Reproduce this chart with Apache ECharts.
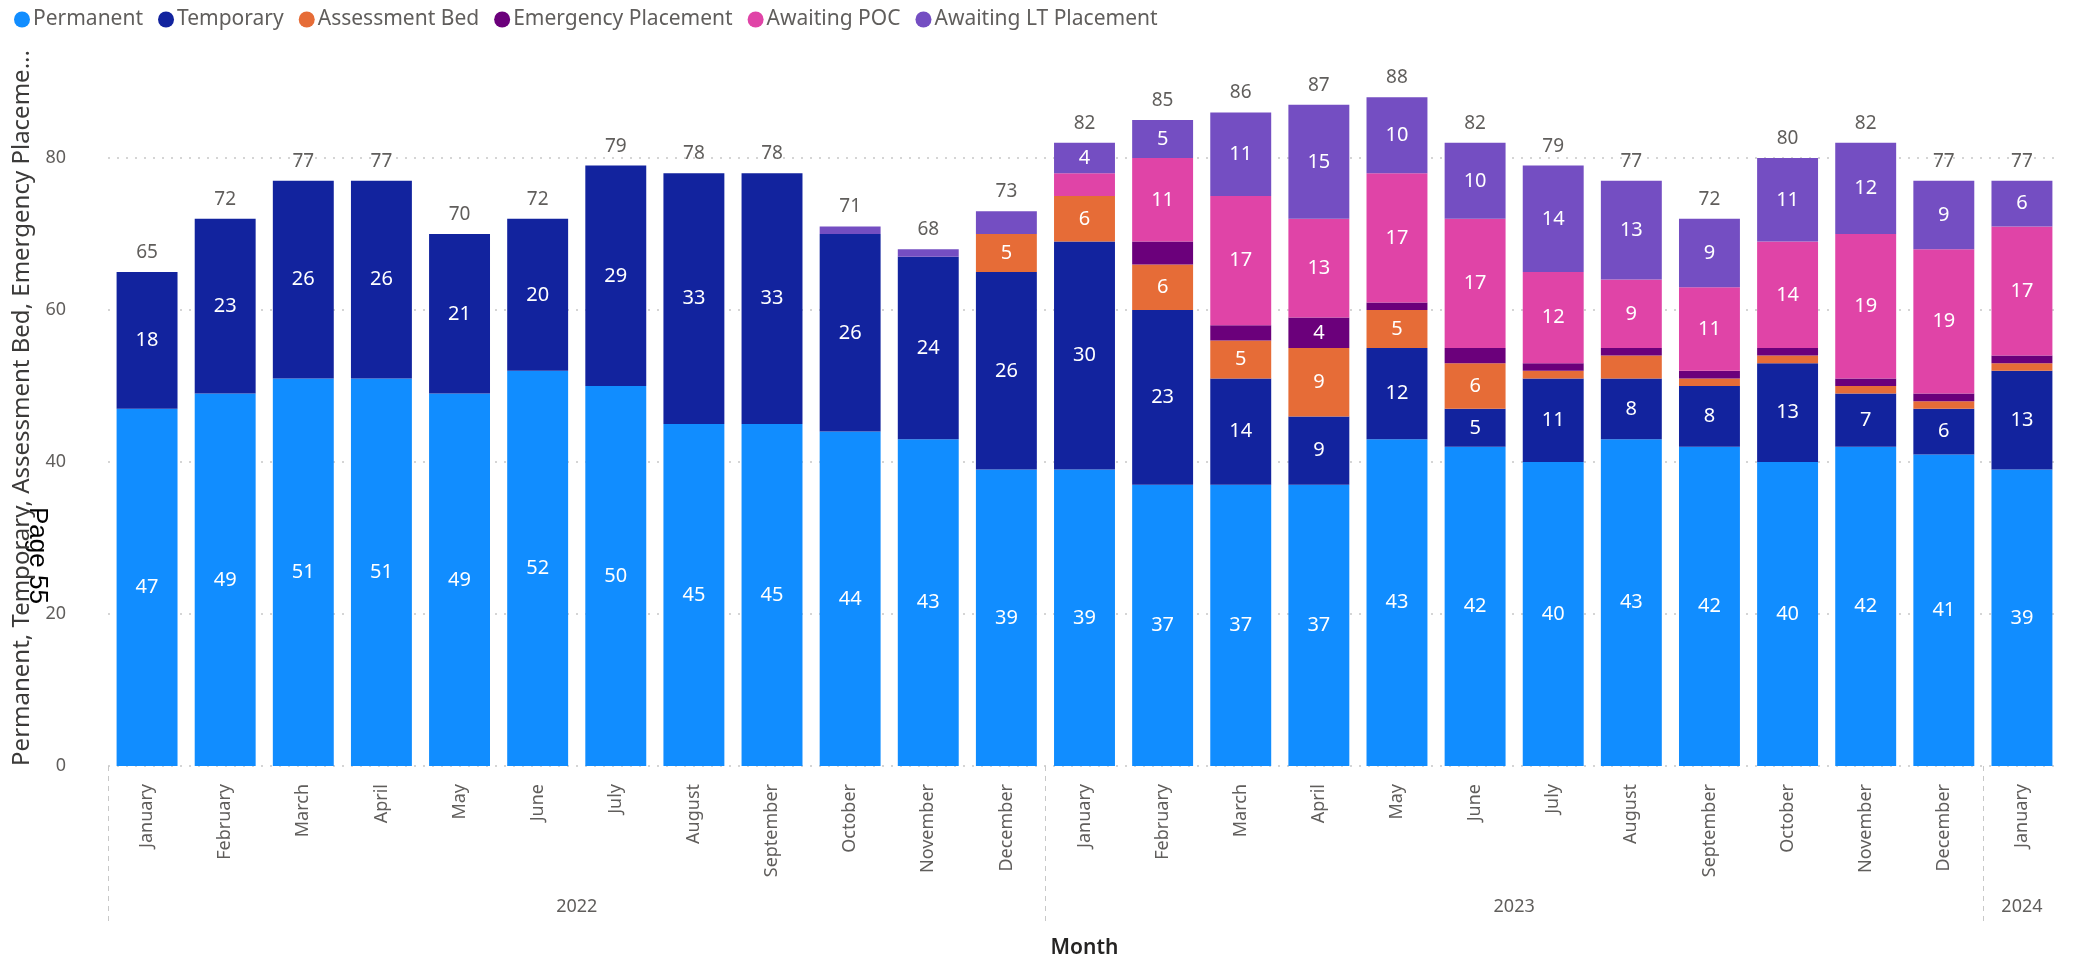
<!DOCTYPE html>
<html>
<head>
<meta charset="utf-8">
<script src="https://cdn.jsdelivr.net/npm/echarts@6/dist/echarts.min.js"></script>
<style>
  html, body { margin: 0; padding: 0; background: #fff; }
  #chart { width: 2083px; height: 959px; }
</style>
</head>
<body>
<div id="chart"></div>
<script>
// Monthly placement counts, Jan 2022 – Jan 2024
const monthLabels = ['January','February','March','April','May','June','July','August','September','October','November','December',
                     'January','February','March','April','May','June','July','August','September','October','November','December',
                     'January'];
const yearLabels = ['2022', '2023', '2024'];
const yearStarts = [0, 12, 24];
const yearCentres = [6, 18, 24.5];

const permanent  = [47,49,51,51,49,52,50,45,45,44,43,39, 39,37,37,37,43,42,40,43,42,40,42,41, 39];
const temporary  = [18,23,26,26,21,20,29,33,33,26,24,26, 30,23,14, 9,12, 5,11, 8, 8,13, 7, 6, 13];
const assessment = [ 0, 0, 0, 0, 0, 0, 0, 0, 0, 0, 0, 5,  6, 6, 5, 9, 5, 6, 1, 3, 1, 1, 1, 1,  1];
const emergency  = [ 0, 0, 0, 0, 0, 0, 0, 0, 0, 0, 0, 0,  0, 3, 2, 4, 1, 2, 1, 1, 1, 1, 1, 1,  1];
const awaitPoc   = [ 0, 0, 0, 0, 0, 0, 0, 0, 0, 0, 0, 0,  3,11,17,13,17,17,12, 9,11,14,19,19, 17];
const awaitLt    = [ 0, 0, 0, 0, 0, 0, 0, 0, 0, 1, 1, 3,  4, 5,11,15,10,10,14,13, 9,11,12, 9,  6];

const seriesDefs = [
  { name: 'Permanent',             data: permanent,  color: '#118DFF' },
  { name: 'Temporary',             data: temporary,  color: '#12239E' },
  { name: 'Assessment Bed',        data: assessment, color: '#E66C37' },
  { name: 'Emergency Placement',   data: emergency,  color: '#6B007B' },
  { name: 'Awaiting POC',          data: awaitPoc,   color: '#E044A7' },
  { name: 'Awaiting LT Placement', data: awaitLt,    color: '#744EC2' }
];

const totals = monthLabels.map((_, i) => seriesDefs.reduce((s, d) => s + d.data[i], 0));

const FONT = '"Noto Sans", "Open Sans", sans-serif';
const GREY = '#605E5C';

const chart = echarts.init(document.getElementById('chart'), null, { renderer: 'canvas' });

const series = seriesDefs.map(d => ({
  name: d.name,
  type: 'bar',
  stack: 'all',
  stackStrategy: 'all',
  clip: false,
  barCategoryGap: '22%',
  itemStyle: { color: d.color },
  emphasis: { disabled: true },
  label: {
    show: true,
    position: 'inside',
    color: '#fff',
    fontFamily: FONT,
    fontSize: 20,
    formatter: p => (p.value >= 4 ? String(p.value) : '')
  },
  data: d.data
}));

// zero-height cap carrying the stacked total
series.push({
  name: 'Total',
  type: 'bar',
  stack: 'all',
  stackStrategy: 'all',
  clip: false,
  itemStyle: { color: 'transparent' },
  emphasis: { disabled: true },
  label: {
    show: true,
    position: 'top',
    distance: 10,
    color: GREY,
    fontFamily: FONT,
    fontSize: 19,
    formatter: p => String(totals[p.dataIndex])
  },
  data: totals.map(() => 0)
});

chart.setOption({
  animation: false,
  textStyle: { fontFamily: FONT },
  legend: {
    data: seriesDefs.map(d => d.name),
    left: 9,
    top: 4,
    icon: 'circle',
    itemWidth: 16,
    itemHeight: 16,
    itemGap: 15,
    textStyle: { fontSize: 21, color: GREY, fontFamily: FONT, padding: [0, 0, 0, -2] }
  },
  grid: { left: 108, right: 22, top: 158, bottom: 193, containLabel: false, outerBoundsMode: 'none' },
  xAxis: [
    {
      type: 'category',
      data: monthLabels.map((m, i) => i),
      axisLine: { show: false },
      axisTick: { show: false },
      axisLabel: {
        rotate: 90,
        margin: 18,
        fontSize: 18,
        color: GREY,
        fontFamily: FONT,
        interval: 0,
        formatter: (v, i) => monthLabels[i]
      },
      name: 'Month',
      nameLocation: 'middle',
      nameGap: 172,
      nameTextStyle: { fontSize: 21, color: '#252423', fontWeight: 600, fontFamily: FONT }
    },
    {
      type: 'value',
      position: 'bottom',
      min: 0,
      max: monthLabels.length,
      axisLine: { show: false },
      splitLine: { show: false },
      axisTick: {
        show: true,
        customValues: yearStarts,
        length: 158,
        lineStyle: { color: '#C8C8C8', type: [5, 5], width: 1 }
      },
      axisLabel: {
        show: true,
        customValues: yearCentres,
        margin: 132,
        fontSize: 18,
        color: GREY,
        fontFamily: FONT,
        formatter: v => yearLabels[yearCentres.indexOf(v)] || ''
      }
    }
  ],
  yAxis: {
    type: 'value',
    min: 0,
    max: 80,
    interval: 20,
    axisLine: { show: false },
    axisTick: { show: false },
    axisLabel: { margin: 42, fontSize: 18, color: GREY, fontFamily: FONT },
    splitLine: { lineStyle: { color: '#C8C8C8', type: [2, 7], width: 1.5 } },
    name: 'Permanent, Temporary, Assessment Bed, Emergency Placeme...',
    nameLocation: 'middle',
    nameGap: 72,
    nameTextStyle: { fontSize: 24, color: '#3B3A39', fontFamily: FONT, padding: [0, 0, 0, 108] }
  },
  graphic: [
    {
      type: 'text',
      x: 50,
      y: 507,
      rotation: -Math.PI / 2,
      style: {
        text: 'Page 55',
        fill: '#000',
        font: '26px "Liberation Sans", Arial, sans-serif'
      }
    }
  ],
  series: series
});
</script>
</body>
</html>
